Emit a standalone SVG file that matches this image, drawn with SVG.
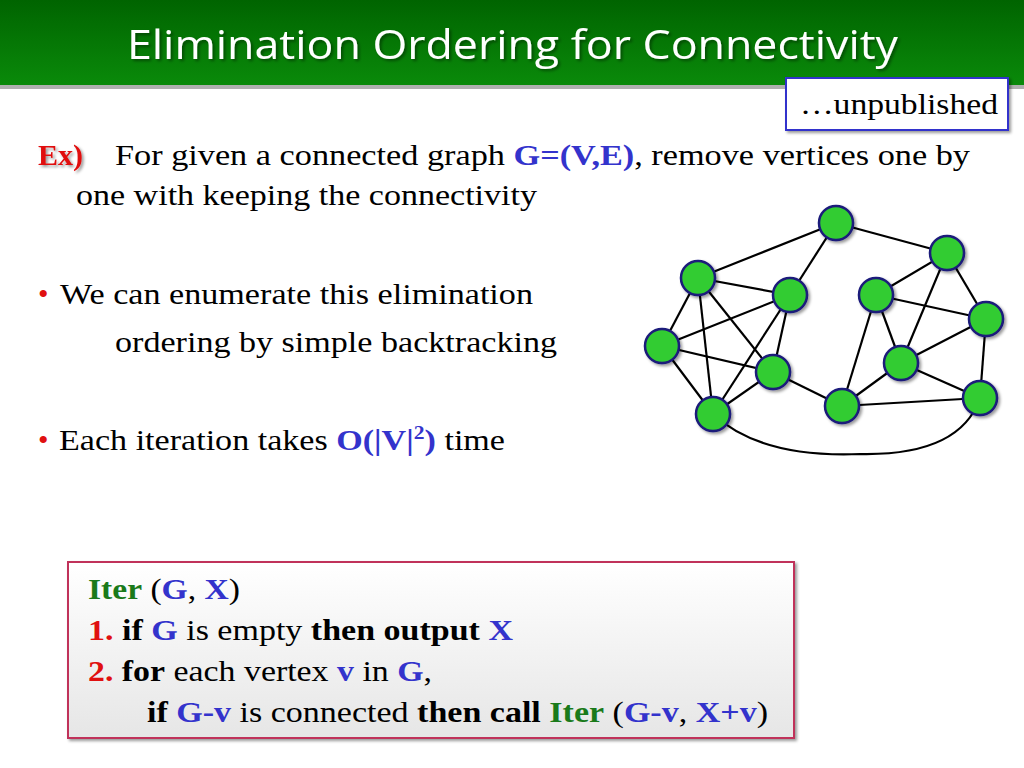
<svg xmlns="http://www.w3.org/2000/svg" width="1024" height="768" viewBox="0 0 1024 768">
<defs>
<linearGradient id="hg" x1="0" y1="0" x2="0" y2="1"><stop offset="0" stop-color="#006400"/><stop offset="1" stop-color="#0a8a0a"/></linearGradient>
<linearGradient id="bg" x1="0" y1="0" x2="0" y2="1"><stop offset="0" stop-color="#ffffff"/><stop offset="1" stop-color="#e6e6e6"/></linearGradient>
<filter id="sh" x="-20%" y="-20%" width="150%" height="150%"><feDropShadow dx="2" dy="2" stdDeviation="1.5" flood-color="#000" flood-opacity="0.4"/></filter>
</defs>
<style>
.t{font-family:"Liberation Serif",serif;font-size:30px;fill:#000}
.b{font-weight:bold}.bl{fill:#3333cc}.gr{fill:#1a7a1a}.rd{fill:#e01010}
.n{fill:#33cc33;stroke:#1a1a7a;stroke-width:2.5}
.e{stroke:#000;stroke-width:2.2;fill:none}
</style>
<rect x="0" y="0" width="1024" height="85" fill="url(#hg)"/>
<rect x="0" y="85" width="1024" height="4" fill="#b0b0b0"/>
<text x="127" y="59" textLength="771" lengthAdjust="spacingAndGlyphs" font-family="Open Sans, sans-serif" font-size="40" fill="#fff" filter="url(#sh)">Elimination Ordering for Connectivity</text>
<g id="unpub"><rect x="786" y="78" width="222" height="52" fill="#fff" stroke="#3333cc" stroke-width="2" filter="url(#sh)"/>
<text x="800" y="114" textLength="198" lengthAdjust="spacingAndGlyphs" class="t">…unpublished</text></g>
<text x="38" y="165" class="t b rd" filter="url(#sh)">Ex)</text>
<text x="115" y="165" textLength="855" lengthAdjust="spacingAndGlyphs" class="t">For given a connected graph <tspan class="b bl">G=(V,E)</tspan>, remove vertices one by</text>
<text x="76" y="205" textLength="461" lengthAdjust="spacingAndGlyphs" class="t">one with keeping the connectivity</text>
<text x="38" y="304" class="t rd">•</text>
<text x="60" y="304" textLength="473" lengthAdjust="spacingAndGlyphs" class="t">We can enumerate this elimination</text>
<text x="115" y="352" textLength="442" lengthAdjust="spacingAndGlyphs" class="t">ordering by simple backtracking</text>
<text x="38" y="450" class="t rd">•</text>
<text x="59" y="450" class="t" textLength="446" lengthAdjust="spacingAndGlyphs">Each iteration takes <tspan class="b bl">O(|V|<tspan font-size="19" dy="-11">2</tspan><tspan dy="11">)</tspan></tspan> time</text>
<g id="connectors">
<line class="e" x1="836" y1="223" x2="698" y2="278"/>
<line class="e" x1="836" y1="223" x2="790" y2="295"/>
<line class="e" x1="836" y1="223" x2="947" y2="253"/>
<line class="e" x1="698" y1="278" x2="790" y2="295"/>
<line class="e" x1="698" y1="278" x2="662" y2="346"/>
<line class="e" x1="698" y1="278" x2="713" y2="414"/>
<line class="e" x1="698" y1="278" x2="773" y2="372"/>
<line class="e" x1="790" y1="295" x2="662" y2="346"/>
<line class="e" x1="790" y1="295" x2="773" y2="372"/>
<line class="e" x1="790" y1="295" x2="713" y2="414"/>
<line class="e" x1="662" y1="346" x2="773" y2="372"/>
<line class="e" x1="662" y1="346" x2="713" y2="414"/>
<line class="e" x1="773" y1="372" x2="713" y2="414"/>
<line class="e" x1="773" y1="372" x2="842" y2="406"/>
<line class="e" x1="876" y1="295" x2="947" y2="253"/>
<line class="e" x1="876" y1="295" x2="986" y2="319"/>
<line class="e" x1="876" y1="295" x2="842" y2="406"/>
<line class="e" x1="876" y1="295" x2="901" y2="363"/>
<line class="e" x1="947" y1="253" x2="901" y2="363"/>
<line class="e" x1="947" y1="253" x2="986" y2="319"/>
<line class="e" x1="986" y1="319" x2="901" y2="363"/>
<line class="e" x1="986" y1="319" x2="980" y2="398"/>
<line class="e" x1="901" y1="363" x2="842" y2="406"/>
<line class="e" x1="901" y1="363" x2="980" y2="398"/>
<line class="e" x1="842" y1="406" x2="980" y2="398"/>
<path class="e" d="M713 414 Q760 458 860 454 Q960 456 980 398"/>
</g>
<g filter="url(#sh)">
<g id="nA"><circle class="n" cx="836" cy="223" r="17"/></g>
<g id="nB"><circle class="n" cx="947" cy="253" r="17"/></g>
<g id="nC"><circle class="n" cx="698" cy="278" r="17"/></g>
<g id="nD"><circle class="n" cx="790" cy="295" r="17"/></g>
<g id="nE"><circle class="n" cx="876" cy="295" r="17"/></g>
<g id="nF"><circle class="n" cx="986" cy="319" r="17"/></g>
<g id="nG"><circle class="n" cx="662" cy="346" r="17"/></g>
<g id="nH"><circle class="n" cx="773" cy="372" r="17"/></g>
<g id="nI"><circle class="n" cx="901" cy="363" r="17"/></g>
<g id="nJ"><circle class="n" cx="713" cy="414" r="17"/></g>
<g id="nK"><circle class="n" cx="842" cy="406" r="17"/></g>
<g id="nL"><circle class="n" cx="980" cy="398" r="17"/></g>
</g>
<g id="algo">
<rect x="68" y="562" width="726" height="176" fill="url(#bg)" stroke="#c0305a" stroke-width="2" filter="url(#sh)"/>
<text x="88" y="599" class="t" textLength="152" lengthAdjust="spacingAndGlyphs"><tspan class="b gr">Iter</tspan> (<tspan class="b bl">G</tspan>, <tspan class="b bl">X</tspan>)</text>
<text x="88" y="640" class="t" textLength="425" lengthAdjust="spacingAndGlyphs"><tspan class="b rd">1.</tspan> <tspan class="b">if</tspan> <tspan class="b bl">G</tspan> is empty <tspan class="b">then output</tspan> <tspan class="b bl">X</tspan></text>
<text x="88" y="681" class="t" textLength="344" lengthAdjust="spacingAndGlyphs"><tspan class="b rd">2.</tspan> <tspan class="b">for</tspan> each vertex <tspan class="b bl">v</tspan> in <tspan class="b bl">G</tspan>,</text>
<text x="147" y="722" class="t" textLength="621" lengthAdjust="spacingAndGlyphs"><tspan class="b">if</tspan> <tspan class="b bl">G-v</tspan> is connected <tspan class="b">then call</tspan> <tspan class="b gr">Iter</tspan> (<tspan class="b bl">G-v</tspan>, <tspan class="b bl">X+v</tspan>)</text>
</g>
</svg>
